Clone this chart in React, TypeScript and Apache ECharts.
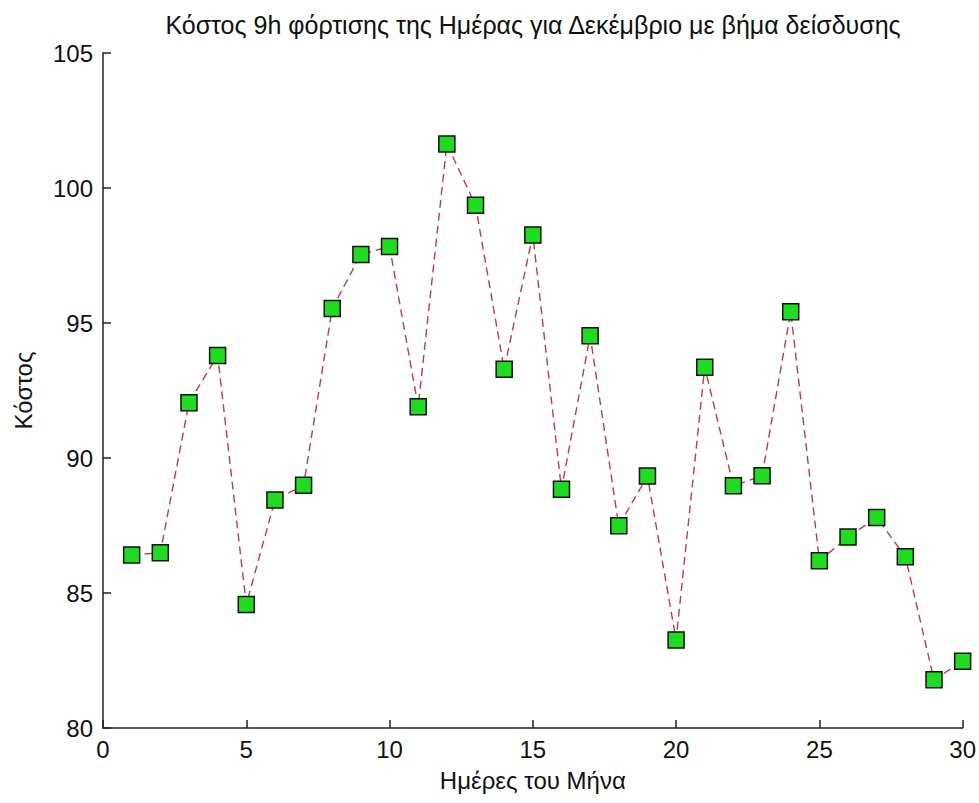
import React, { useEffect, useRef } from "react";
import * as echarts from "echarts";

const days: number[] = [1, 2, 3, 4, 5, 6, 7, 8, 9, 10, 11, 12, 13, 14, 15, 16, 17, 18, 19, 20, 21, 22, 23, 24, 25, 26, 27, 28, 29, 30];
const cost: number[] = [
  86.41, 86.49, 92.05, 93.8, 84.57, 88.44, 88.99, 95.54, 97.54, 97.83,
  91.9, 101.63, 99.36, 93.29, 98.26, 88.84, 94.53, 87.49, 89.33, 83.26,
  93.36, 88.97, 89.34, 95.42, 86.19, 87.07, 87.8, 86.34, 81.79, 82.47,
];
const titleText = "Κόστος 9h φόρτισης της Ημέρας για Δεκέμβριο με βήμα δείσδυσης";
const xName = "Ημέρες του Μήνα";
const yName = "Κόστος";

const FONT = "'Liberation Sans', Arial, sans-serif";

export default function App() {
  const ref = useRef<HTMLDivElement>(null);
  useEffect(() => {
    if (!ref.current) return;
    const chart = echarts.init(ref.current, undefined, { renderer: "svg" });
    const axisLine = { show: true, onZero: false, lineStyle: { color: "#222", width: 1.5 } };
    chart.setOption({
      animation: false,
      backgroundColor: "#ffffff",
      textStyle: { fontFamily: FONT },
      title: {
        text: titleText,
        left: 528,
        textAlign: "center",
        top: 7,
        textStyle: { fontFamily: FONT, fontSize: 25, fontWeight: "normal", color: "#111" },
      },
      grid: { left: 103, right: 16, top: 53, bottom: 75, containLabel: false },
      xAxis: {
        type: "value",
        min: 0,
        max: 30,
        interval: 5,
        name: xName,
        nameLocation: "middle",
        nameGap: 40,
        nameTextStyle: { fontFamily: FONT, fontSize: 24, color: "#111" },
        axisLine,
        axisTick: { show: true, inside: true, length: 8, lineStyle: { color: "#222", width: 1.5 } },
        axisLabel: { fontFamily: FONT, fontSize: 24, color: "#111", margin: 9 },
        splitLine: { show: false },
      },
      yAxis: {
        type: "value",
        min: 80,
        max: 105,
        interval: 5,
        name: yName,
        nameLocation: "middle",
        nameGap: 68,
        nameTextStyle: { fontFamily: FONT, fontSize: 24, color: "#111" },
        axisLine,
        axisTick: { show: true, inside: true, length: 8, lineStyle: { color: "#222", width: 1.5 } },
        axisLabel: { fontFamily: FONT, fontSize: 24, color: "#111", margin: 10 },
        splitLine: { show: false },
      },
      series: [
        {
          type: "line",
          data: days.map((d, i) => [d, cost[i]]),
          symbol: "rect",
          symbolSize: 16,
          itemStyle: { color: "#20dc20", borderColor: "#111", borderWidth: 1.5 },
          lineStyle: { color: "#c23a48", width: 1.4, type: [8, 5] },
          emphasis: { disabled: true },
        },
      ],
    });
    return () => chart.dispose();
  }, []);
  return (
    <div
      ref={ref}
      style={{ position: "fixed", left: 0, top: 0, width: 979, height: 803 }}
    />
  );
}
